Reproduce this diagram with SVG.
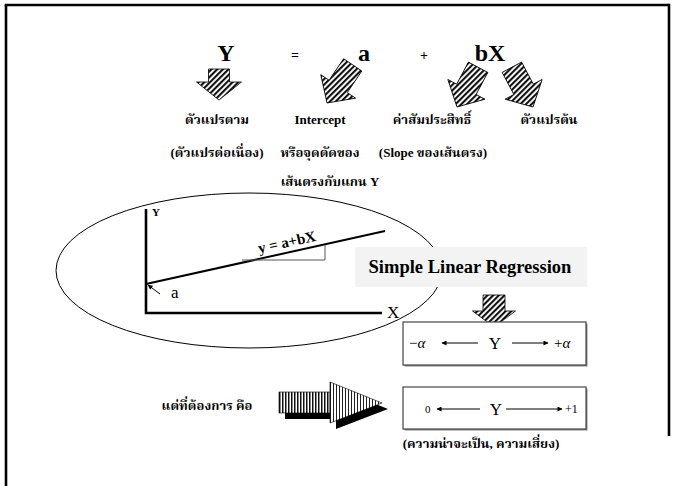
<svg xmlns="http://www.w3.org/2000/svg" width="676" height="486" viewBox="0 0 676 486">
<style>
.lat{font-family:"Liberation Serif","Times New Roman",serif;fill:#000}
.b{font-weight:bold}
.th{font-family:"Liberation Serif","Noto Serif Thai","Noto Sans Thai","Loma","Garuda","Norasi",serif;font-weight:bold;fill:#000}
.frame{stroke:#000;stroke-width:2.6;fill:none}
.axis{stroke:#000;stroke-width:2.6;fill:none}
.thin{stroke:#000;stroke-width:1;fill:none}
.box{fill:#fff;stroke:#444;stroke-width:1.2}
.shadow{fill:#888}
</style>
<defs>
<pattern id="h0" width="4" height="4" patternUnits="userSpaceOnUse" patternTransform="rotate(-45)"><rect width="4" height="4" fill="#fff"/><rect width="4" height="2.1" fill="#111"/></pattern>
<pattern id="h1" width="4" height="4" patternUnits="userSpaceOnUse" patternTransform="rotate(-79)"><rect width="4" height="4" fill="#fff"/><rect width="4" height="2.1" fill="#111"/></pattern>
<pattern id="h2" width="4" height="4" patternUnits="userSpaceOnUse" patternTransform="rotate(-73)"><rect width="4" height="4" fill="#fff"/><rect width="4" height="2.1" fill="#111"/></pattern>
<pattern id="h3" width="4" height="4" patternUnits="userSpaceOnUse" patternTransform="rotate(-17)"><rect width="4" height="4" fill="#fff"/><rect width="4" height="2.1" fill="#111"/></pattern>
<pattern id="v1" width="3" height="3" patternUnits="userSpaceOnUse"><rect width="3" height="3" fill="#fff"/><rect width="1.5" height="3" fill="#111"/></pattern>
<pattern id="v2" width="3" height="3" patternUnits="userSpaceOnUse"><rect width="3" height="3" fill="#fff"/><rect width="1" height="3" fill="#222"/></pattern>
<marker id="ah" viewBox="0 0 10 10" refX="9" refY="5" markerWidth="7" markerHeight="5" orient="auto" markerUnits="userSpaceOnUse"><path d="M0,0 L10,5 L0,10 Z" fill="#000"/></marker>
</defs>

<g id="frame">
<line class="frame" x1="6" y1="5" x2="6" y2="486"/>
<line class="frame" x1="4.7" y1="5" x2="669" y2="5"/>
<line class="frame" x1="669" y1="3.7" x2="669" y2="436"/>
</g>

<g id="equation">
<text class="lat b" x="226" y="61" font-size="24" text-anchor="middle">Y</text>
<text class="lat b" x="295" y="60" font-size="14" text-anchor="middle">=</text>
<text class="lat b" x="364" y="61" font-size="24" text-anchor="middle">a</text>
<text class="lat b" x="424" y="60" font-size="14" text-anchor="middle">+</text>
<text class="lat b" x="490" y="61" font-size="24" text-anchor="middle">bX</text>
</g>

<g id="arrows-top">
<path transform="translate(219,100)" fill="url(#h0)" stroke="#000" stroke-width="0.8" d="M-10.5,-31 L10.5,-31 L10.5,-18 L22.5,-18 L0,0 L-22.5,-18 L-10.5,-18 Z"/>
<path transform="translate(327,103) rotate(34)" fill="url(#h1)" stroke="#000" stroke-width="0.8" d="M-11,-46 L11,-46 L11,-20 L21,-20 L0,0 L-21,-20 L-11,-20 Z"/>
<path transform="translate(457,107) rotate(28)" fill="url(#h2)" stroke="#000" stroke-width="0.8" d="M-11,-45 L11,-45 L11,-20 L21,-20 L0,0 L-21,-20 L-11,-20 Z"/>
<path transform="translate(533,107) rotate(-28)" fill="url(#h3)" stroke="#000" stroke-width="0.8" d="M-11,-45 L11,-45 L11,-20 L21,-20 L0,0 L-21,-20 L-11,-20 Z"/>
</g>

<g id="labels">
<text class="th" x="217" y="124" font-size="13" text-anchor="middle">ตัวแปรตาม</text>
<text class="lat b" x="320" y="124" font-size="13" text-anchor="middle">Intercept</text>
<text class="th" x="432" y="124" font-size="13" text-anchor="middle">ค่าสัมประสิทธิ์</text>
<text class="th" x="549" y="124" font-size="13" text-anchor="middle">ตัวแปรต้น</text>
<text class="th" x="217" y="157" font-size="13" text-anchor="middle">(ตัวแปรต่อเนื่อง)</text>
<text class="th" x="320" y="157" font-size="13" text-anchor="middle">หรือจุดตัดของ</text>
<text class="th" x="433" y="157" font-size="13" text-anchor="middle">(Slope ของเส้นตรง)</text>
<text class="th" x="330" y="186" font-size="13" text-anchor="middle">เส้นตรงกับแกน Y</text>
</g>

<g id="graph">
<ellipse cx="249" cy="270.5" rx="193" ry="77.5" fill="none" stroke="#000" stroke-width="1"/>
<polyline class="axis" points="146,209 146,313 382,313"/>
<line x1="146" y1="284" x2="385" y2="231" stroke="#000" stroke-width="2"/>
<polyline points="242,260 325,260 325,245" fill="none" stroke="#555" stroke-width="1"/>
<text class="lat b" x="152" y="216" font-size="11">Y</text>
<text class="lat" x="387" y="318" font-size="17">X</text>
<text class="lat" x="171" y="298" font-size="17">a</text>
<line class="thin" x1="160" y1="294" x2="148" y2="285" marker-end="url(#ah)"/>
<text class="lat b" x="288" y="247" font-size="15" text-anchor="middle" transform="rotate(-12.5 288 247)">y = a+bX</text>
</g>

<g id="slr">
<rect x="355" y="247" width="232" height="40" fill="#f3f3f3"/>
<text class="lat b" x="470" y="273" font-size="18.5" text-anchor="middle">Simple Linear Regression</text>
</g>

<g id="arrow-slr">
<path transform="translate(494,327)" fill="url(#h0)" stroke="#000" stroke-width="0.8" d="M-11,-32 L11,-32 L11,-16 L21.5,-16 L0,0 L-21.5,-16 L-11,-16 Z"/>
</g>

<g id="box1">
<rect class="shadow" x="404.5" y="323.5" width="183" height="43"/>
<rect class="box" x="403" y="322" width="183" height="43"/>
<text class="lat" x="409" y="348" font-size="15">−<tspan font-style="italic">α</tspan></text>
<line class="thin" x1="478" y1="343" x2="442" y2="343" marker-end="url(#ah)"/>
<text class="lat" x="495" y="349" font-size="17" text-anchor="middle">Y</text>
<line class="thin" x1="512" y1="343" x2="548" y2="343" marker-end="url(#ah)"/>
<text class="lat" x="554" y="348" font-size="15">+<tspan font-style="italic">α</tspan></text>
</g>

<g id="box2">
<rect class="shadow" x="404.5" y="388.5" width="183" height="42"/>
<rect class="box" x="403" y="387" width="183" height="42"/>
<text class="lat" x="425" y="413" font-size="11">0</text>
<line class="thin" x1="480" y1="409" x2="437" y2="409" marker-end="url(#ah)"/>
<text class="lat" x="496" y="415" font-size="17" text-anchor="middle">Y</text>
<line class="thin" x1="506" y1="409" x2="562" y2="409" marker-end="url(#ah)"/>
<text class="lat" x="565" y="413" font-size="12">+1</text>
<text class="th" x="481" y="448" font-size="13" text-anchor="middle">(ความน่าจะเป็น, ความเสี่ยง)</text>
</g>

<g id="want">
<text class="th" x="207" y="410" font-size="13" text-anchor="middle">แต่ที่ต้องการ คือ</text>
</g>

<g id="big-arrow">
<path fill="#000" transform="translate(6,6)" d="M279,392 L330,392 L330,382 L382,403 L330,423 L330,413 L279,413 Z"/>
<rect x="279" y="392" width="51" height="21" fill="url(#v1)" stroke="#000" stroke-width="0.6"/>
<path fill="url(#v2)" stroke="#000" stroke-width="0.6" d="M330,382 L382,403 L330,423 Z"/>
</g>
</svg>
